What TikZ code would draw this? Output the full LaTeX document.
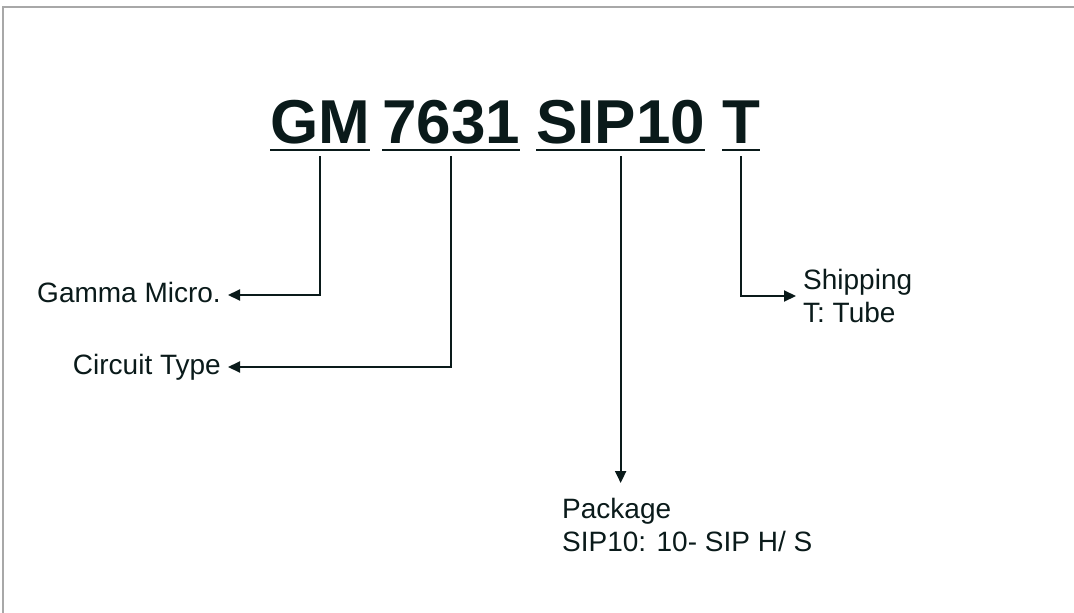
\documentclass[tikz,border=0pt]{standalone}
\usepackage{fontspec}
\setmainfont{Liberation Sans}
\usetikzlibrary{arrows.meta}
\definecolor{encre}{RGB}{10,26,26}
\definecolor{cadre}{RGB}{168,168,168}
\newcommand{\souligne}[1]{\draw[line width=2.5pt] ([yshift=-7pt]#1.base west) -- ([yshift=-7pt]#1.base east)}
\newcommand{\renvoi}[2]{\draw[line width=2pt, -{Triangle[length=12pt,width=11pt]}] ([yshift=-13pt]#1.base) |- (#2)}

\begin{document}
\begin{tikzpicture}[x=1pt, y=-1pt, encre,
                    titre/.style={inner sep=0pt, anchor=base west, font=\fontsize{62}{62}\selectfont\bfseries},
                    etiquette/.style={inner xsep=7pt, inner ysep=0pt, font=\fontsize{28}{33}\selectfont}]
                    \useasboundingbox (0,0) rectangle (1074,613);
                    \draw[cadre, line width=1.6pt] (1074,7) -- (3,7) -- (3,613);

                    \node[titre] (gm) at (270,143) {GM};
                    \node[titre] (num) at (382,143) {7631};
                    \node[titre] (pkg) at (536,143) {SIP10};
                    \node[titre] (tt) at (722,143) {T};

                    \node[etiquette, anchor=east, text height=20pt, text depth=6pt] (gamma) at (228,295) {Gamma Micro.};
                    \node[etiquette, anchor=east, text height=20pt, text depth=6pt] (circuit) at (228,367) {Circuit Type};
                    \node[etiquette, anchor=north west, align=left, inner ysep=15pt] (pack) at (555,483) {Package\\SIP10: 10- SIP H/ S};
                    \node[etiquette, anchor=west, align=left] (ship) at (796,296) {Shipping\\T: Tube};

                    \souligne{gm};
                    \souligne{num};
                    \souligne{pkg};
                    \souligne{tt};

                    \renvoi{gm}{gamma.east};
                    \renvoi{num}{circuit.east};
                    \draw[line width=2pt, -{Triangle[length=12pt,width=11pt]}] ([yshift=-13pt]pkg.base) -- (pkg.base |- pack.north);
                    \renvoi{tt}{ship.west};
                \end{tikzpicture}
\end{document}
